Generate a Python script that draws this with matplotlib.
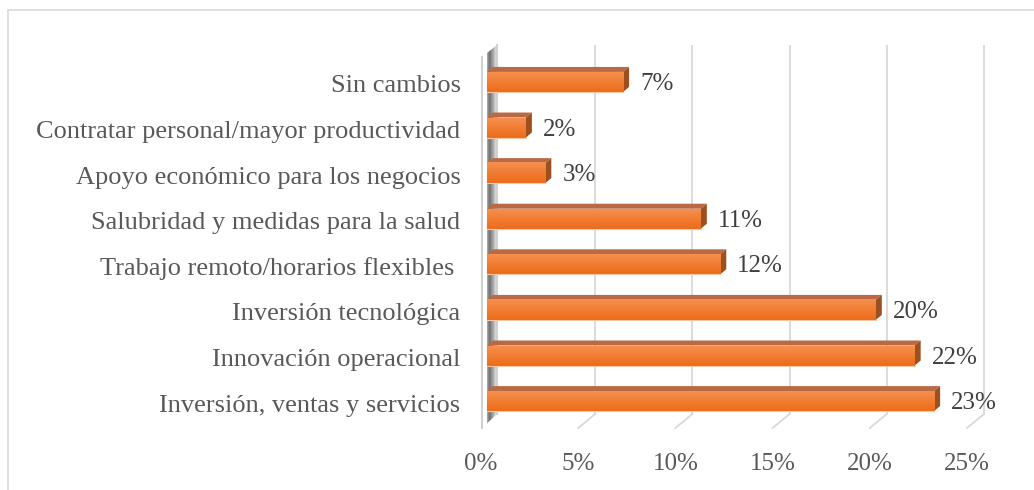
import numpy as np
import matplotlib
matplotlib.use("Agg")
import matplotlib.pyplot as plt
from matplotlib.patches import Polygon, Rectangle
from matplotlib.colors import LinearSegmentedColormap
from matplotlib.transforms import ScaledTranslation

# ---- data ----
categories = [
    "Inversión, ventas y servicios",
    "Innovación operacional",
    "Inversión tecnológica",
    "Trabajo remoto/horarios flexibles ",
    "Salubridad y medidas para la salud",
    "Apoyo económico para los negocios",
    "Contratar personal/mayor productividad",
    "Sin cambios",
]
values = [0.23, 0.22, 0.20, 0.12, 0.11, 0.03, 0.02, 0.07]
x_ticks = [0.0, 0.05, 0.10, 0.15, 0.20, 0.25]
x_tick_labels = ["0%", "5%", "10%", "15%", "20%", "25%"]

W, H, DPI = 1034, 490, 100
fig = plt.figure(figsize=(W / DPI, H / DPI), dpi=DPI)
plt.rcParams['font.family'] = ['Liberation Serif', 'DejaVu Serif']

# axes placed on the bar front-face scale
ax_l, ax_r, ax_t, ax_b = 487, 973, 45, 428
ax = fig.add_axes([ax_l / W, 1 - ax_b / H, (ax_r - ax_l) / W, (ax_b - ax_t) / H])
XMAX = 0.25
YMIN, YMAX = -0.59, 7.81
PX = XMAX / (ax_r - ax_l)          # data units per pixel (x)
PY = (YMAX - YMIN) / (ax_b - ax_t)  # data units per pixel (y)

ypos = np.arange(len(categories))
bar_h = 20 * PY
dx, dy = 6 * PX, 5 * PY            # extrusion depth

grid_c = "#d9d9d9"
# back gridlines + floor diagonals
back_off, front_off = 11 * PX, -6 * PX
y_back_bottom = YMIN + 14 * PY
for v in x_ticks[1:]:
    ax.plot([v + back_off, v + back_off], [YMAX, y_back_bottom], color=grid_c,
            lw=1.3, zorder=1, clip_on=False, solid_capstyle='butt')
    ax.plot([v + back_off, v + front_off], [y_back_bottom, YMIN], color=grid_c,
            lw=1.3, zorder=1, clip_on=False)

# left wall (parallelogram with shaded gradient)
wf, wb = -5 * PX, 10 * PX
wall = [(wf, YMAX - 12 * PY), (wb, YMAX), (wb, y_back_bottom), (wf, YMIN)]
wall_poly = Polygon(wall, closed=True, facecolor="none", edgecolor="none", zorder=2)
ax.add_patch(wall_poly)
wall_cmap = LinearSegmentedColormap.from_list(
    "wall", ["#eeeeee", "#d0d0d0", "#6e6e6e", "#a8a8a8", "#efefef"])
grad = np.linspace(0, 1, 64)[None, :]
im = ax.imshow(grad, cmap=wall_cmap, extent=(wf, wb, YMIN, YMAX), aspect='auto',
               zorder=2, interpolation='bilinear')
im.set_clip_path(wall_poly)
ax.plot([wf, wf], [YMIN, YMAX - 12 * PY], color="#d0d0d0", lw=1.5, zorder=2.5, clip_on=False)
ax.plot([wb, wb], [y_back_bottom, YMAX], color="#d0d0d0", lw=1.5, zorder=2.5, clip_on=False)

# bars
bars = ax.barh(ypos, values, height=bar_h, color="#ef7a2c", edgecolor="none", zorder=4)
face_cmap = LinearSegmentedColormap.from_list("face", ["#f68f50", "#f17d32", "#ec6c1a"])
vgrad = np.linspace(0, 1, 64)[:, None]
for b in bars:
    x0, y0, w, h = b.get_x(), b.get_y(), b.get_width(), b.get_height()
    ax.imshow(vgrad, cmap=face_cmap, extent=(x0, x0 + w, y0, y0 + h), aspect='auto',
              zorder=4.1, interpolation='bilinear')
    top = Polygon([(x0, y0 + h), (x0 + w, y0 + h), (x0 + w + dx, y0 + h + dy),
                   (x0 + dx, y0 + h + dy)], closed=True, facecolor="#b96a42",
                  edgecolor="none", zorder=3.9)
    side = Polygon([(x0 + w, y0), (x0 + w + dx, y0 + dy), (x0 + w + dx, y0 + h + dy),
                    (x0 + w, y0 + h)], closed=True, facecolor="#9c4f1f",
                   edgecolor="none", zorder=3.9)
    ax.add_patch(top)
    ax.add_patch(side)
    ax.plot([x0, x0 + w], [y0, y0], color="#f8c7a4", lw=0.8, zorder=4.2)
    ax.text(x0 + w + 17 * PX, y0 + h / 2 - 2 * PY, f"{round(w * 100)}%",
            ha="left", va="center", fontsize=18, color="#404040", zorder=5)

ax.set_xlim(0, XMAX)
ax.set_ylim(YMIN, YMAX)
ax.set_yticks(ypos)
ax.set_yticklabels(categories, fontsize=19, color="#595959")
ax.set_xticks(x_ticks)
ax.set_xticklabels(x_tick_labels, fontsize=18, color="#595959")
ax.tick_params(axis='y', length=0, pad=19)
ax.tick_params(axis='x', length=0, pad=18)
for lab in ax.get_xticklabels():
    lab.set_transform(lab.get_transform() + ScaledTranslation(-6 / DPI, 0, fig.dpi_scale_trans))
for lab in ax.get_yticklabels():
    lab.set_transform(lab.get_transform() + ScaledTranslation(0, -2 / DPI, fig.dpi_scale_trans))
for s in ax.spines.values():
    s.set_visible(False)
ax.set_facecolor("none")

# outer chart border (extends beyond right/bottom edges)
fig.patches.append(Rectangle((8 / W, -0.1), 2.0, 1 - 10 / H + 0.1, transform=fig.transFigure,
                             fill=False, edgecolor="#d9d9d9", lw=1.2))

fig.savefig("out.png", dpi=DPI)
